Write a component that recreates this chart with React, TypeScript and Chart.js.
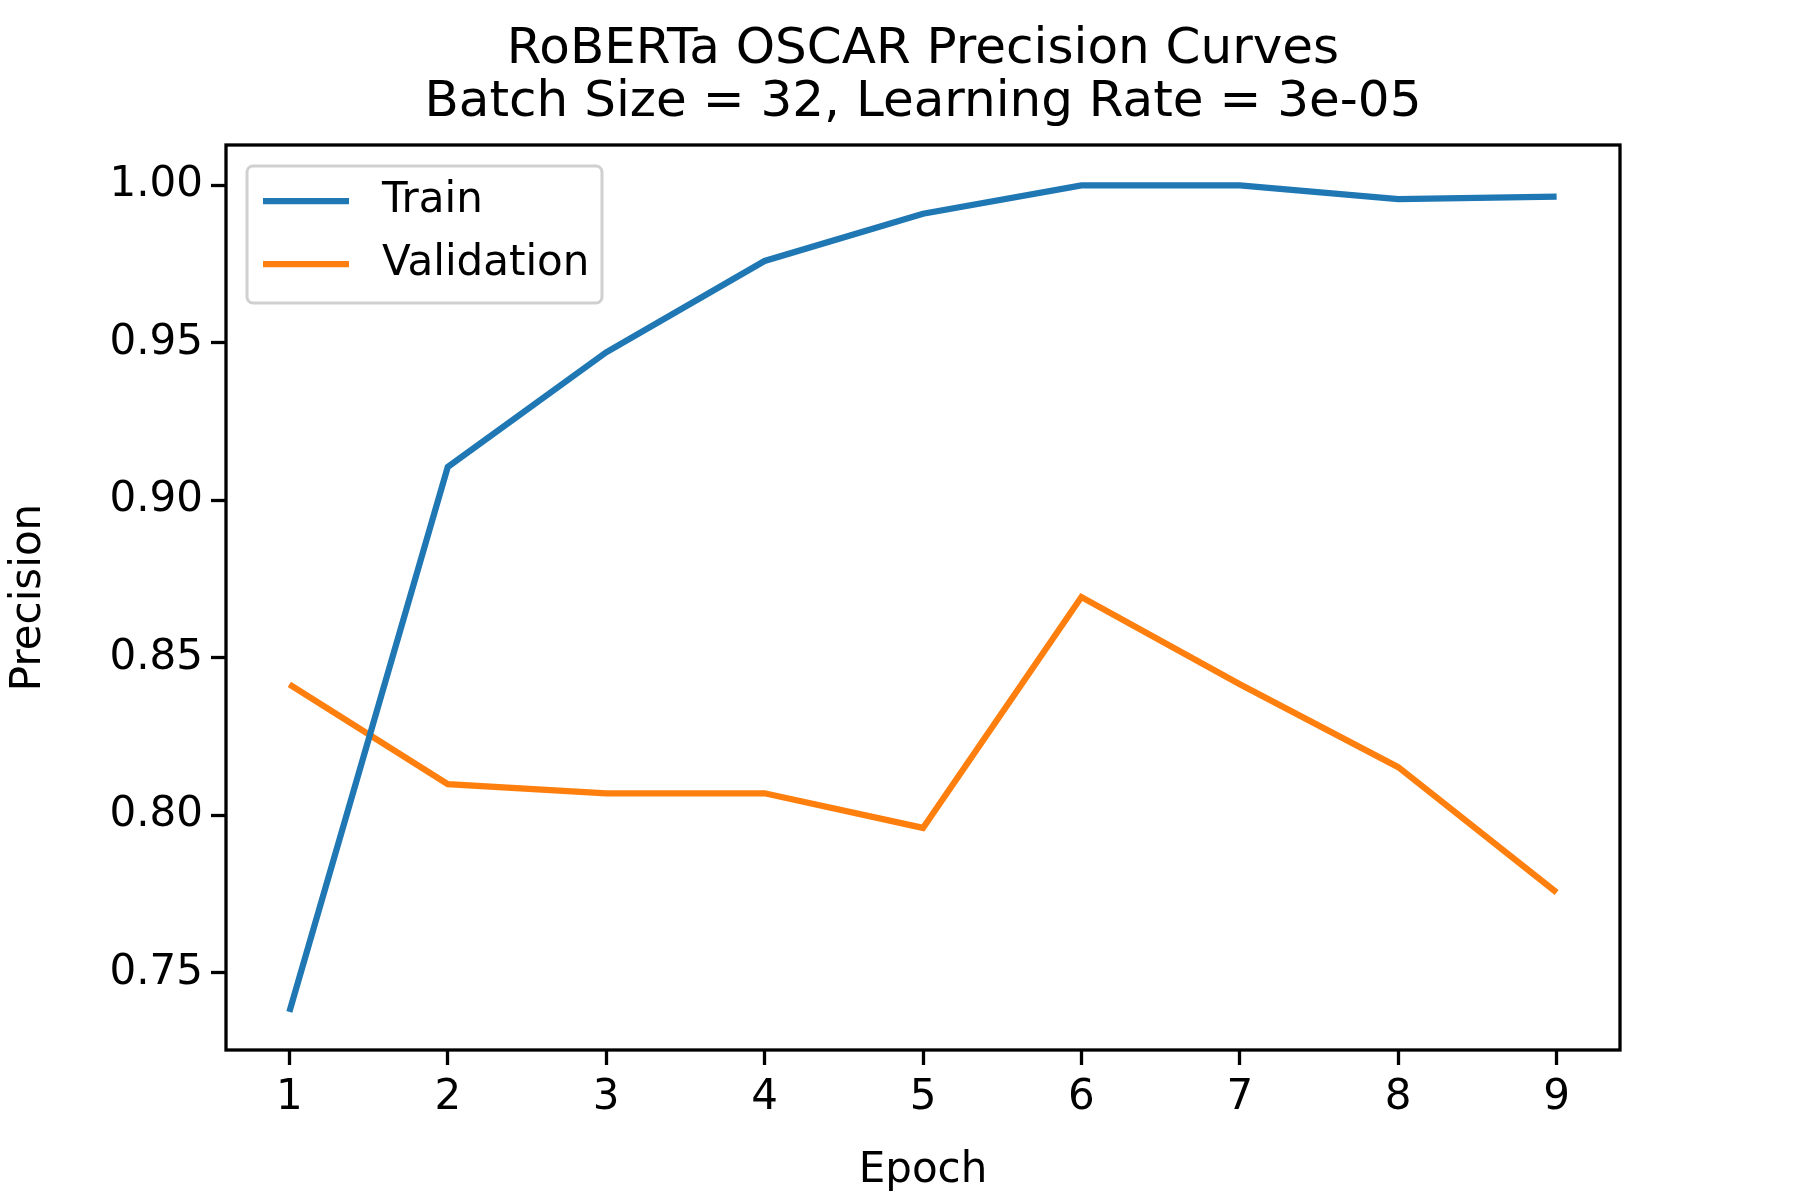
import { useEffect, useRef } from "react";
import { Chart, registerables } from "chart.js";

Chart.register(...registerables);

const epochs = [1, 2, 3, 4, 5, 6, 7, 8, 9];
const trainPrecision = [0.7376, 0.9106, 0.947, 0.976, 0.991, 1.0, 1.0, 0.9956, 0.9964];
const valPrecision = [0.8416, 0.8099, 0.807, 0.807, 0.796, 0.8693, 0.8416, 0.8153, 0.7755];
const yTicks = [0.75, 0.8, 0.85, 0.9, 0.95, 1.0];
const titleLines = ["RoBERTa OSCAR Precision Curves", "Batch Size = 32, Learning Rate = 3e-05"];

const FONT = "'DejaVu Sans', sans-serif";

const decor = {
  id: "decor",
  afterDraw(chart: Chart) {
    const { ctx, chartArea: a } = chart;
    ctx.save();
    ctx.strokeStyle = "#000";
    ctx.lineWidth = 3.3;
    ctx.strokeRect(a.left, a.top, a.right - a.left, a.bottom - a.top);

    ctx.fillStyle = "#000";
    ctx.textAlign = "center";
    ctx.textBaseline = "middle";
    ctx.font = `50px ${FONT}`;
    ctx.fillText(titleLines[0], (a.left + a.right) / 2, 50);
    ctx.fillText(titleLines[1], (a.left + a.right) / 2, 103);

    // legend
    const lx = 247, ly = 166, lw = 355, lh = 137;
    ctx.fillStyle = "rgba(255,255,255,0.8)";
    ctx.strokeStyle = "#d0d0d0";
    ctx.lineWidth = 3;
    ctx.beginPath();
    ctx.roundRect(lx, ly, lw, lh, 6);
    ctx.fill();
    ctx.stroke();
    const items = chart.data.datasets;
    items.forEach((ds, i) => {
      const y = 201 + i * 63;
      ctx.strokeStyle = ds.borderColor as string;
      ctx.lineWidth = 6.25;
      ctx.beginPath();
      ctx.moveTo(263, y);
      ctx.lineTo(349, y);
      ctx.stroke();
      ctx.fillStyle = "#000";
      ctx.textAlign = "left";
      ctx.font = `42px ${FONT}`;
      ctx.fillText(ds.label as string, 382, y);
    });
    ctx.restore();
  },
};

export default function App() {
  const canvasRef = useRef<HTMLCanvasElement | null>(null);

  useEffect(() => {
    if (!canvasRef.current) return;
    document.body.style.margin = "0";
    const chart = new Chart(canvasRef.current, {
      type: "line",
      data: {
        datasets: [
          {
            label: "Train",
            data: epochs.map((e, i) => ({ x: e, y: trainPrecision[i] })),
            borderColor: "#1f77b4",
            borderWidth: 6.25,
            pointRadius: 0,
            tension: 0,
          },
          {
            label: "Validation",
            data: epochs.map((e, i) => ({ x: e, y: valPrecision[i] })),
            borderColor: "#ff7f0e",
            borderWidth: 6.25,
            pointRadius: 0,
            tension: 0,
          },
        ],
      },
      options: {
        animation: false,
        responsive: false,
        devicePixelRatio: 1,
        layout: { padding: { top: 145, right: 180, left: 0, bottom: 0 } },
        plugins: { legend: { display: false }, tooltip: { enabled: false }, title: { display: false } },
        scales: {
          x: {
            type: "linear",
            min: 0.6,
            max: 9.4,
            afterBuildTicks: (s) => {
              s.ticks = epochs.map((v) => ({ value: v }));
            },
            afterFit: (s) => {
              s.height = 150;
            },
            grid: { drawOnChartArea: false, tickLength: 15, tickWidth: 3.3, color: "#000" },
            border: { display: false },
            ticks: { color: "#000", font: { family: FONT, size: 42 }, padding: 8, maxRotation: 0 },
            title: { display: true, text: "Epoch", color: "#000", font: { family: FONT, size: 42 }, padding: { top: 4 } },
          },
          y: {
            min: 0.7255,
            max: 1.0128,
            afterBuildTicks: (s) => {
              s.ticks = yTicks.map((v) => ({ value: v }));
            },
            afterFit: (s) => {
              s.width = 226;
            },
            grid: { drawOnChartArea: false, tickLength: 15, tickWidth: 3.3, color: "#000" },
            border: { display: false },
            ticks: {
              color: "#000",
              font: { family: FONT, size: 42 },
              padding: 8,
              callback: (v) => Number(v).toFixed(2),
            },
            title: { display: true, text: "Precision", color: "#000", font: { family: FONT, size: 42 }, padding: { bottom: 4 } },
          },
        },
      },
      plugins: [decor],
    });
    return () => chart.destroy();
  }, []);

  return <canvas ref={canvasRef} width={1800} height={1200} style={{ display: "block" }} />;
}
